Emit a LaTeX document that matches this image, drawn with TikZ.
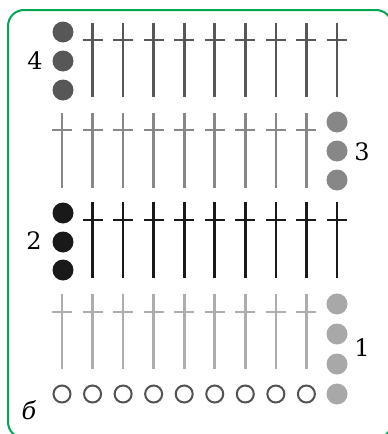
\documentclass[tikz,border=0pt]{standalone}
\usepackage{fontspec}
\setmainfont{DejaVu Serif}
\definecolor{frame}{RGB}{0,166,81}
\begin{document}
\begin{tikzpicture}[x=1pt, y=-1pt, line width=2.6pt,
  lbl/.style={font=\fontsize{24}{24}\selectfont}]
\useasboundingbox (0,0) rectangle (388,434);
\clip (0,0) rectangle (388,434);
\draw[frame, line width=2pt, rounded corners=16pt] (8,10) rectangle (392,438);
% row 4
\foreach \i in {1,...,9}
  \draw[black!66] ({62+30.55*\i},23) -- ({62+30.55*\i},97)
    ({52+30.55*\i},40) -- ({72+30.55*\i},40);
\foreach \y in {32,61,90}
  \fill[black!66] (63,\y) circle (10.5);
\node[lbl] at (35,61) {4};
% row 3
\foreach \i in {0,...,8}
  \draw[black!47] ({62+30.55*\i},113) -- ({62+30.55*\i},188)
    ({52+30.55*\i},130) -- ({72+30.55*\i},130);
\foreach \y in {122,151,180}
  \fill[black!47] (337,\y) circle (10.5);
\node[lbl] at (362,152) {3};
% row 2
\foreach \i in {1,...,9}
  \draw[black!90] ({62+30.55*\i},202) -- ({62+30.55*\i},278)
    ({52+30.55*\i},220) -- ({72+30.55*\i},220);
\foreach \y in {213,242,270}
  \fill[black!90] (63,\y) circle (10.5);
\node[lbl] at (34,241) {2};
% row 1
\foreach \i in {0,...,8}
  \draw[black!32] ({62+30.55*\i},294) -- ({62+30.55*\i},369)
    ({52+30.55*\i},312) -- ({72+30.55*\i},312);
\foreach \y in {304,334,364,394}
  \fill[black!34] (337,\y) circle (10.5);
\node[lbl] at (362,348) {1};
% chain
\foreach \i in {0,...,8}
  \draw[black!68, line width=2pt] ({62+30.55*\i},394) circle (8.5);
\node[lbl, font=\fontsize{24}{24}\selectfont\itshape] at (29,410) {б};
\end{tikzpicture}
\end{document}
